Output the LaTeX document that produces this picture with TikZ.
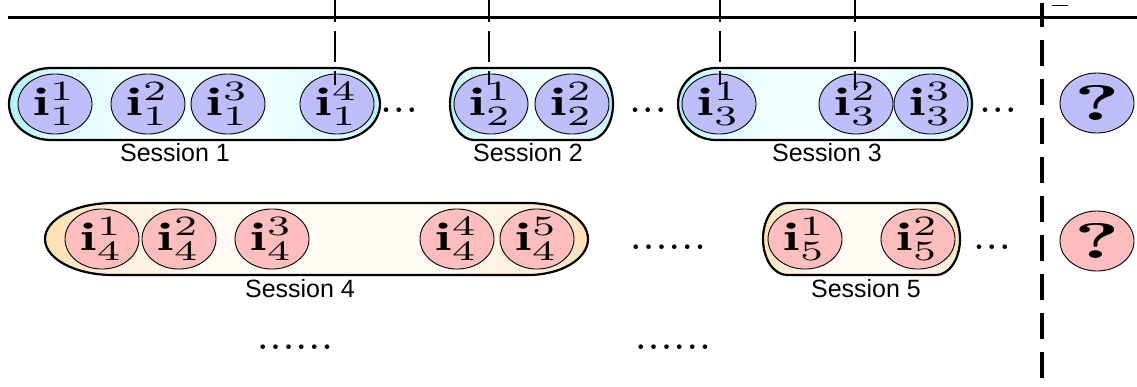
\documentclass[tikz,border=0pt]{standalone}
\usepackage{fontspec}
\setsansfont{Liberation Sans}
\usepackage{graphicx}
\usetikzlibrary{shapes.geometric}
\definecolor{itemblue}{RGB}{190,190,252}
\definecolor{itempink}{RGB}{255,190,190}
\definecolor{capcyan}{RGB}{175,242,245}
\definecolor{capcyanmid}{RGB}{215,250,252}
\definecolor{capcyanlight}{RGB}{240,255,255}
\definecolor{cappeach}{RGB}{255,224,172}
\definecolor{cappeachmid}{RGB}{255,238,215}
\definecolor{cappeachlight}{RGB}{255,251,244}
\pgfdeclarehorizontalshading{blueshade}{100bp}{color(0bp)=(capcyan); color(25bp)=(capcyan); color(30bp)=(capcyanmid); color(40bp)=(capcyanlight); color(60bp)=(capcyanlight); color(72bp)=(capcyanmid); color(75bp)=(capcyan); color(100bp)=(capcyan)}
\pgfdeclarehorizontalshading{peachshade}{100bp}{color(0bp)=(cappeach); color(25bp)=(cappeach); color(30bp)=(cappeachmid); color(40bp)=(cappeachlight); color(60bp)=(cappeachlight); color(72bp)=(cappeachmid); color(75bp)=(cappeach); color(100bp)=(cappeach)}
\newcommand{\itm}[2]{\scalebox{5.8}[4.0]{$\mathbf{i}^{#1}_{#2}$}}
\newcommand{\qmk}{\scalebox{8.4}[5.0]{\bfseries ?}}
\newcommand{\threedots}{.\kern0.09em.\kern0.09em.}
\newcommand{\sixdots}{.\kern0.09em.\kern0.09em.\kern0.09em.\kern0.09em.\kern0.09em.}
\tikzset{
  itemnode/.style={ellipse, draw=black, line width=0.9pt, minimum width=74pt, minimum height=60pt, inner sep=0pt, font=\normalsize},
  blueitem/.style={itemnode, fill=itemblue},
  pinkitem/.style={itemnode, fill=itempink},
  capblue/.style={draw=black, line width=2.2pt, shading=blueshade},
  cappink/.style={draw=black, line width=2.2pt, shading=peachshade},
  sesslabel/.style={font=\sffamily\fontsize{25}{26}\selectfont, inner sep=0pt},
  dotsnode/.style={font=\bfseries\fontsize{32}{32}\selectfont, inner sep=0pt, anchor=base},
  thindash/.style={line width=1.6pt, dash pattern=on 31pt off 9pt, dash phase=9pt},
  thickdash/.style={line width=3.5pt, dash pattern=on 26pt off 13pt, dash phase=2pt},
}
\begin{document}
\begin{tikzpicture}[x=1pt,y=1pt]
\useasboundingbox (0,0) rectangle (1137,-386);
% timeline
\coordinate (tl0) at (8,-17);
\coordinate (tl1) at (1137,-17);
\draw[line width=3pt] (tl0) -- (tl1);
\coordinate (tk0) at (1052,-5);
\coordinate (tk1) at (1068,-5);
\draw[line width=0.8pt] (tk0) -- (tk1);
% capsules row 1
\path[capblue] (51,-68) -- (336,-68) arc[start angle=90,end angle=-90,x radius=44,y radius=36] -- (51,-140) arc[start angle=-90,end angle=-270,x radius=42,y radius=36] -- cycle;
\path[capblue] (474,-68) -- (589,-68) arc[start angle=90,end angle=-90,x radius=24,y radius=36] -- (474,-140) arc[start angle=-90,end angle=-270,x radius=24,y radius=36] -- cycle;
\path[capblue] (716,-68) -- (940,-68) arc[start angle=90,end angle=-90,x radius=32,y radius=36] -- (716,-140) arc[start angle=-90,end angle=-270,x radius=38,y radius=36] -- cycle;
% capsules row 2
\path[cappink] (113,-203) -- (528,-203) arc[start angle=90,end angle=-90,x radius=60,y radius=36] -- (113,-275) arc[start angle=-90,end angle=-270,x radius=68,y radius=36] -- cycle;
\path[cappink] (787,-203) -- (936,-203) arc[start angle=90,end angle=-90,x radius=24,y radius=36] -- (787,-275) arc[start angle=-90,end angle=-270,x radius=24,y radius=36] -- cycle;
% row 1 items
\node[blueitem] (c11) at (55,-104) {\itm{1}{1}};
\node[blueitem] (c12) at (148,-104) {\itm{2}{1}};
\node[blueitem] (c13) at (228,-104) {\itm{3}{1}};
\node[blueitem] (c14) at (337,-104) {\itm{4}{1}};
\node[blueitem] (c21) at (491,-104) {\itm{1}{2}};
\node[blueitem] (c22) at (572,-104) {\itm{2}{2}};
\node[blueitem] (c31) at (719,-104) {\itm{1}{3}};
\node[blueitem] (c32) at (856,-104) {\itm{2}{3}};
\node[blueitem] (c33) at (931,-104) {\itm{3}{3}};
\node[blueitem] (q1) at (1097,-103) {\qmk};
% row 2 items
\node[pinkitem] (c41) at (102,-239) {\itm{1}{4}};
\node[pinkitem] (c42) at (179,-239) {\itm{2}{4}};
\node[pinkitem] (c43) at (272,-239) {\itm{3}{4}};
\node[pinkitem] (c44) at (457,-239) {\itm{4}{4}};
\node[pinkitem] (c45) at (537,-239) {\itm{5}{4}};
\node[pinkitem] (c51) at (805,-239) {\itm{1}{5}};
\node[pinkitem] (c52) at (918,-239) {\itm{2}{5}};
\node[pinkitem] (q2) at (1097,-241) {\qmk};
% labels
\node[sesslabel] (s1) at (175,-153) {Session 1};
\node[sesslabel] (s2) at (528,-153) {Session 2};
\node[sesslabel] (s3) at (827,-153) {Session 3};
\node[sesslabel] (s4) at (300,-289) {Session 4};
\node[sesslabel] (s5) at (866,-289) {Session 5};
% dots
\node[dotsnode] (d1) at (399,-112) {\threedots};
\node[dotsnode] (d2) at (648,-112) {\threedots};
\node[dotsnode] (d3) at (998,-112) {\threedots};
\node[dotsnode] (d4) at (668,-249) {\sixdots};
\node[dotsnode] (d5) at (992,-249) {\threedots};
\node[dotsnode] (d6) at (295,-349) {\sixdots};
\node[dotsnode] (d7) at (673,-349) {\sixdots};
% dashed markers
\coordinate (m1t) at (335,0);  \coordinate (m1b) at (335,-85);
\coordinate (m2t) at (489,0);  \coordinate (m2b) at (489,-85);
\coordinate (m3t) at (720,0);  \coordinate (m3b) at (720,-85);
\coordinate (m4t) at (855,0);  \coordinate (m4b) at (855,-90);
\coordinate (bt) at (1042,-3); \coordinate (bb) at (1042,-386);
\draw[thindash] (m1t) -- (m1b);
\draw[thindash] (m2t) -- (m2b);
\draw[thindash] (m3t) -- (m3b);
\draw[thindash] (m4t) -- (m4b);
\draw[thickdash] (bt) -- (bb);
\end{tikzpicture}
\end{document}
